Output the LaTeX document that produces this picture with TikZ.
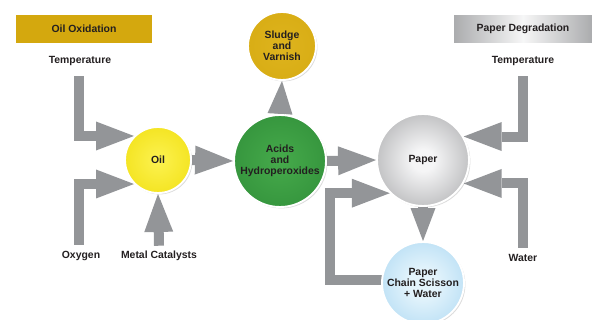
\documentclass[tikz,border=0pt]{standalone}
\usepackage{fontspec}
\setmainfont{Liberation Sans}
\usetikzlibrary{arrows.meta,shadows}
\definecolor{goldc}{RGB}{212,168,14}
\definecolor{goldin}{RGB}{222,180,30}
\definecolor{arrowgray}{RGB}{147,149,152}
\definecolor{oilin}{RGB}{252,242,80}
\definecolor{oilout}{RGB}{238,218,0}
\definecolor{acidin}{RGB}{70,170,75}
\definecolor{acidout}{RGB}{42,135,52}
\definecolor{paperin}{RGB}{245,245,246}
\definecolor{paperout}{RGB}{150,151,153}
\definecolor{chainin}{RGB}{228,244,252}
\definecolor{chainout}{RGB}{160,210,240}
\definecolor{boxgray}{RGB}{170,171,173}
\definecolor{txt}{RGB}{35,31,32}
\pgfdeclareradialshading{oilball}{\pgfpoint{0bp}{0bp}}{color(0bp)=(oilin); color(45bp)=(oilout); color(50bp)=(oilout)}
\pgfdeclareradialshading{acidball}{\pgfpoint{0bp}{0bp}}{color(0bp)=(acidin); color(45bp)=(acidout); color(50bp)=(acidout)}
\pgfdeclareradialshading{goldball}{\pgfpoint{0bp}{0bp}}{color(0bp)=(goldin); color(45bp)=(goldc); color(50bp)=(goldc)}
\pgfdeclareradialshading{paperball}{\pgfpoint{0bp}{0bp}}{color(0bp)=(paperin); color(6bp)=(paperin); color(42bp)=(paperout); color(50bp)=(paperout)}
\pgfdeclareradialshading{chainball}{\pgfpoint{0bp}{0bp}}{color(0bp)=(chainin); color(8bp)=(chainin); color(42bp)=(chainout); color(50bp)=(chainout)}
\pgfdeclarelayer{bg}
\pgfsetlayers{bg,main}
\begin{document}
\begin{tikzpicture}[x=0.03cm,y=-0.03cm,
  font=\fontsize{8.9}{9.6}\selectfont\bfseries,
  lbl/.style={text=txt, inner sep=1pt},
  ball/.style={circle, draw=white, line width=1.6pt, text=txt, align=center, inner sep=0pt,
    drop shadow={opacity=0.28, shadow xshift=1.2pt, shadow yshift=-1.2pt}},
  hdrbox/.style={rectangle, draw=white, line width=2pt, text=txt, minimum height=0.93cm,
    drop shadow={opacity=0.25, shadow xshift=1.2pt, shadow yshift=-1.2pt}},
  arr/.style={draw=arrowgray, line width=0.3cm, line join=miter,
    -{Triangle[length=1.14cm,width=0.87cm,line width=0pt]}},
  sarr/.style={draw=arrowgray, line width=0.3cm,
    -{Triangle[length=0.99cm,width=0.75cm,line width=0pt]}}]
\useasboundingbox (0,0) rectangle (597,320);

% header boxes
\node[hdrbox, fill=goldc, minimum width=4.14cm] (oilox) at (84,29) {Oil Oxidation};
\node[hdrbox, minimum width=4.2cm, left color=boxgray, right color=boxgray, middle color=white!90!boxgray] (paperdeg) at (523,29) {Paper Degradation};

% labels
\node[lbl] (temp1) at (80,61) {Temperature};
\node[lbl] (temp2) at (523,61) {Temperature};
\node[lbl] (oxy) at (81,256) {Oxygen};
\node[lbl] (metal) at (159,256) {Metal Catalysts};
\node[lbl] (water) at (523,258) {Water};

% circles
\node[ball, minimum size=2.04cm, shading=goldball] (sludge) at (282,46) {Sludge\\and\\Varnish};
\node[ball, minimum size=1.98cm, shading=oilball] (oil) at (158,160) {Oil};
\node[ball, minimum size=2.76cm, shading=acidball] (acids) at (280,161) {Acids\\and\\Hydroperoxides};
\node[ball, minimum size=2.76cm, shading=paperball] (paper) at (423,160) {Paper};
\node[ball, minimum size=2.46cm, shading=chainball] (chain) at (423,283) {Paper\\Chain Scisson\\+ Water};

% arrows
\begin{pgfonlayer}{bg}
\draw[arr] ([xshift=-0.03cm]temp1.south) ++(0,9) |- (oil.135);
\draw[arr] ([xshift=-0.06cm]oxy.north) ++(0,-5) |- (oil.225);
\draw[arr] (metal.north) ++(0,-4) -- (oil.south);
\draw[arr] (temp2.south) ++(0,9) |- (paper.30);
\draw[arr] (water.north) ++(0,-5) |- (paper.-30);
\draw[arr] (oil.east) -- (acids.west);
\draw[arr] (acids.east) -- (paper.west);
\draw[sarr] (acids.north) -- (sludge.south);
\draw[sarr] (paper.south) -- (chain.north);
\draw[arr] (chain.west) ++(4,-3) -- ++(-55,0) |- (paper.225);
\end{pgfonlayer}
\end{tikzpicture}
\end{document}
